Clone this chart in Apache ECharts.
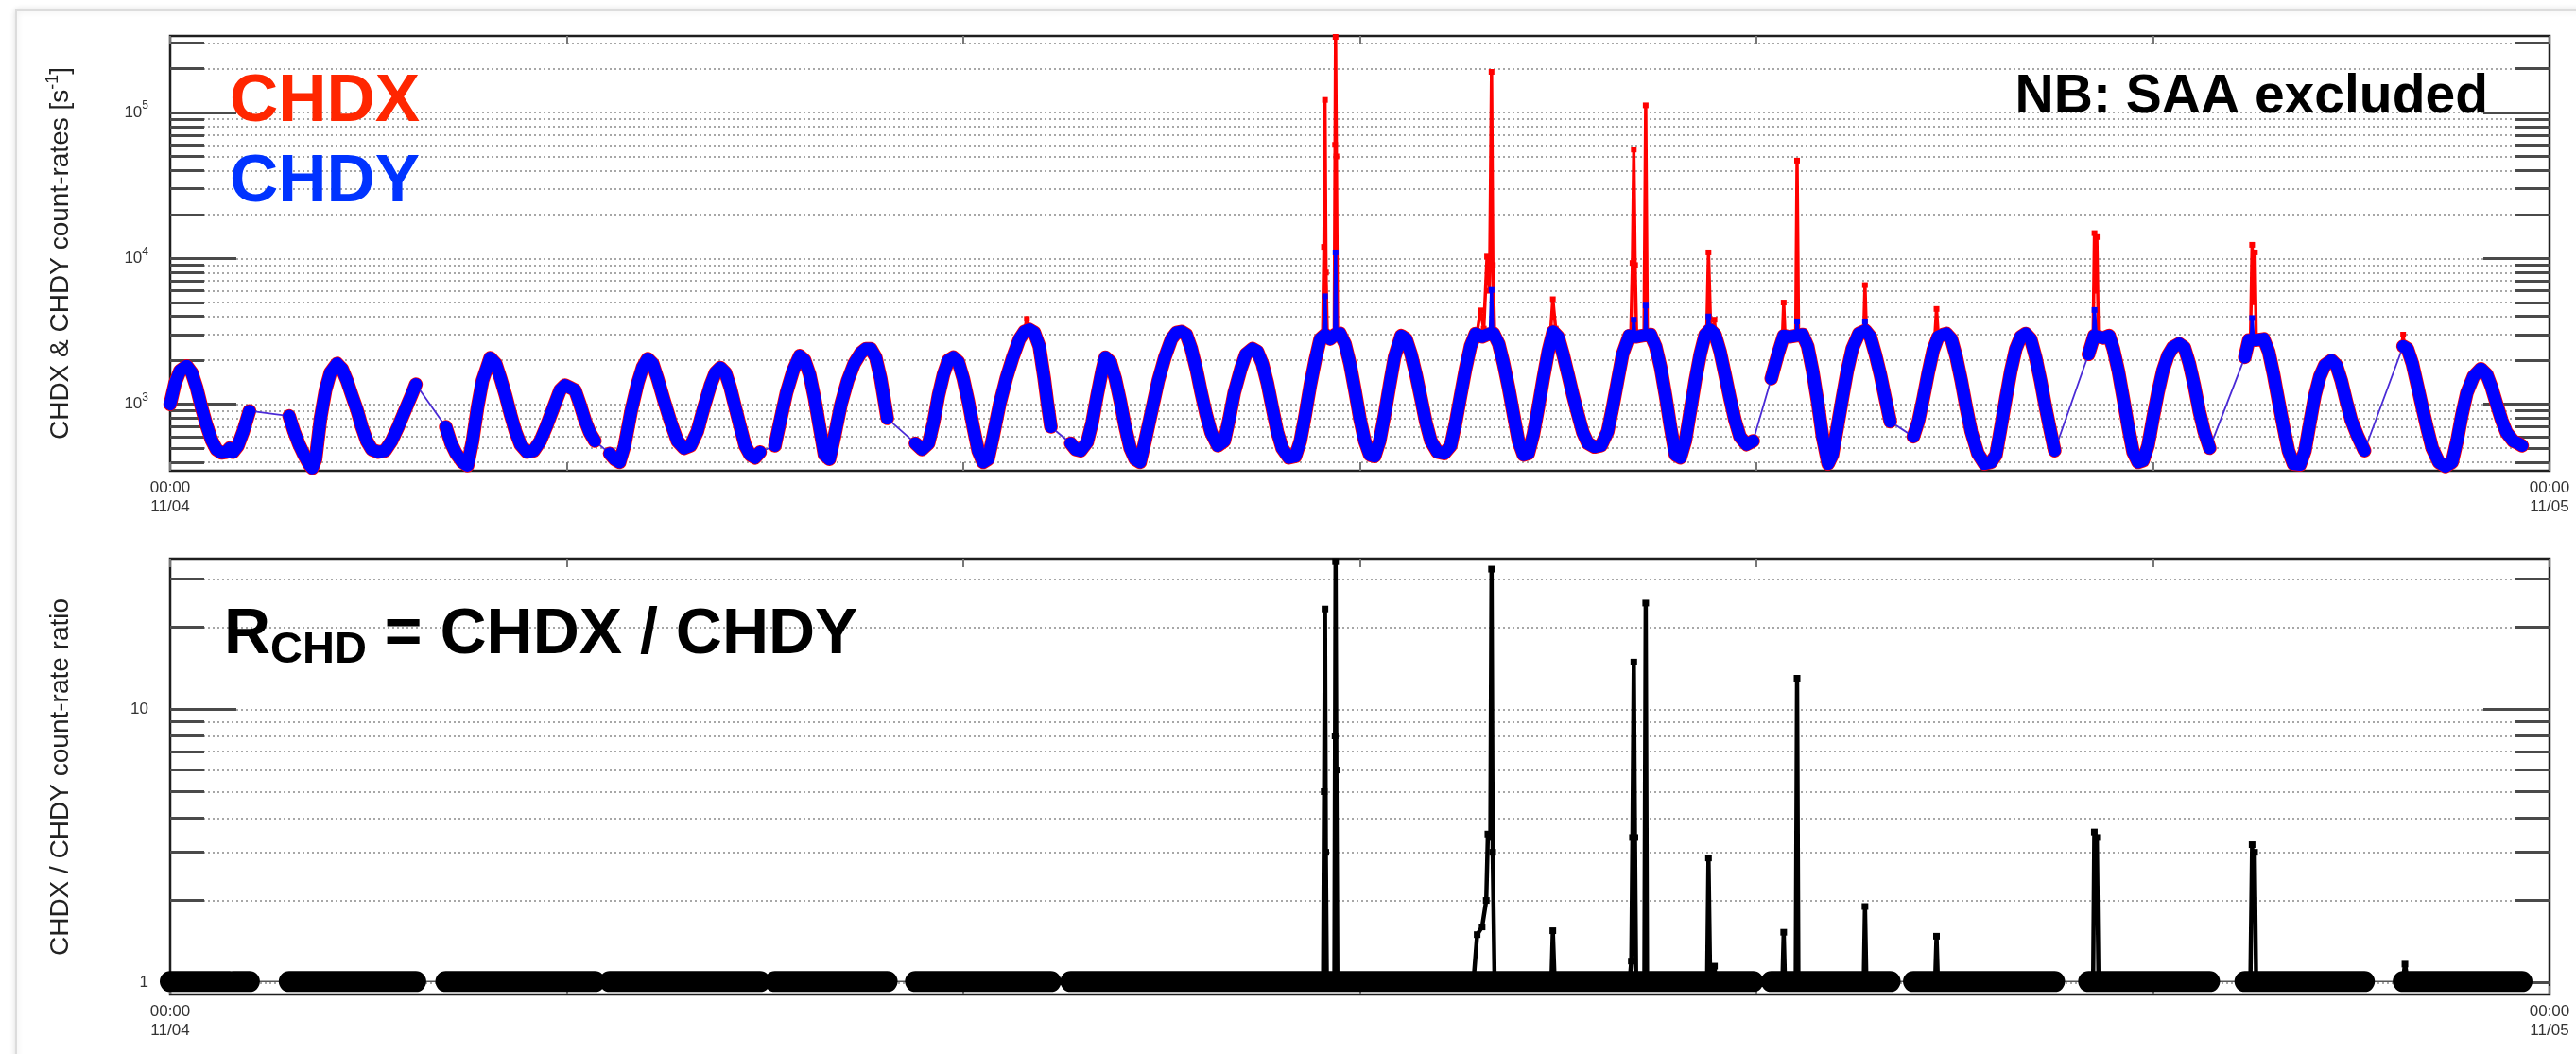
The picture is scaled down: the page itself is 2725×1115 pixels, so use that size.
<!DOCTYPE html>
<html>
<head>
<meta charset="utf-8">
<title>CHDX / CHDY count rates</title>
<script src="https://cdn.jsdelivr.net/npm/echarts/dist/echarts.min.js"></script>
<style>
  html, body { margin: 0; padding: 0; background: #fff; }
  #chart { width: 2725px; height: 1115px; }
</style>
</head>
<body>
<div id="chart"></div>
<script>
// time in minutes after 00:00 11/04, count rate in s^-1
// orbit data between SAA passages (CHDX and CHDY lie on top of each other here)
var chdySegs = [
  [[0, 1000], [3, 1400], [6, 1700], [10, 1830], [13, 1650], [16, 1300], [19, 950], [22, 720], [25, 570], [28, 490], [31, 465], [34, 470], [36, 500]],
  [[38, 470], [41, 520], [44, 640], [48, 900]],
  [[72, 830], [75, 650], [78, 530], [81, 450], [84, 390], [86, 365], [88, 420], [91, 800], [94, 1250], [97, 1650], [101, 1900], [104, 1750], [107, 1450], [110, 1150], [113, 920], [116, 700], [119, 560], [122, 490], [126, 470], [130, 480], [134, 560], [138, 700], [142, 900], [146, 1150], [148.7, 1370]],
  [[166.8, 700], [170, 540], [173, 460], [177, 400], [180, 380], [183, 560], [186, 950], [189, 1450], [193.7, 2080], [197, 1900], [200, 1500], [203, 1150], [206, 850], [209, 650], [212, 530], [216, 470], [220, 480], [224, 560], [228, 720], [232, 950], [236, 1250], [239, 1350], [242, 1300], [245, 1250], [248, 1000], [251, 780], [254, 640], [257, 560]],
  [[266, 460], [269, 420], [272, 400], [275, 520], [279, 900], [283, 1400], [286, 1800], [289, 2050], [292, 1900], [295, 1500], [299, 1050], [303, 750], [307, 560], [311, 500], [315, 520],
   [319, 650], [323, 950], [327, 1350], [330, 1650], [333, 1780], [336, 1650], [339, 1300], [342, 950], [345, 700], [348, 520], [351, 450], [354, 430], [357, 470]],
  [[366, 520], [369, 750], [373, 1200], [377, 1700], [381, 2150], [384, 2000], [387, 1600], [390, 1100], [393, 700], [396, 450], [399, 420],
   [402, 600], [406, 1000], [410, 1450], [414, 1900], [418, 2250], [421, 2400], [424, 2400], [427, 2100], [430, 1500], [432, 1100], [434, 800]],
  [[451, 540], [455, 490], [459, 540], [462, 750], [465, 1150], [468, 1600], [471, 2000], [474, 2100], [477, 1950], [480, 1500], [483, 1050], [486, 700], [489, 480], [492, 400], [495, 420],
   [498, 600], [502, 1000], [506, 1500], [510, 2100], [514, 2800], [517, 3150], [520, 3250], [523, 3100], [526, 2500], [529, 1500], [531, 1000], [533, 700]],
  [[545, 540], [548, 490], [551, 480], [555, 550], [558, 750], [561, 1150], [564, 1700], [566, 2100], [569, 1950], [572, 1500], [575, 1050], [578, 700], [581, 500], [584, 420], [587, 400],
   [590, 560], [594, 900], [598, 1450], [602, 2100], [606, 2800], [609, 3100], [612, 3150], [615, 3000], [618, 2400], [621, 1750], [624, 1200], [627, 850], [630, 640], [634, 520], [638, 560], [641, 800], [644, 1200], [648, 1750], [651, 2200], [655, 2400], [658, 2300], [661, 1900], [664, 1400], [667, 950], [670, 650], [673, 500], [677, 430], [681, 440],
   [684, 560], [687, 850], [690, 1350], [693, 2000], [696, 2800], [699, 3000], [702, 2800], [705, 3000], [708, 3050], [711, 2600], [714, 1900], [717, 1250], [720, 800], [723, 560], [726, 450], [729, 440], [732, 560], [735, 850], [738, 1350], [741, 2100], [745, 2950], [748, 2800], [751, 2200], [754, 1600], [757, 1100], [760, 750], [763, 560], [767, 470], [771, 460],
   [775, 520], [778, 750], [781, 1150], [784, 1750], [787, 2500], [790, 3050], [794, 2900], [797, 3000], [801, 3050], [804, 2600], [807, 1900], [810, 1300], [813, 850], [816, 560], [819, 450], [822, 460], [825, 620], [828, 950], [831, 1500], [834, 2300], [837, 3150], [840, 2900], [843, 2200], [846, 1600], [849, 1150], [852, 850], [855, 640], [858, 540], [862, 510], [866, 520],
   [870, 650], [873, 950], [876, 1450], [879, 2200], [883, 2950], [887, 2900], [891, 2950], [896, 3000], [899, 2500], [902, 1800], [905, 1150], [908, 700], [911, 450], [914, 430], [917, 560], [920, 900], [923, 1450], [926, 2200], [929, 3000], [932, 3250], [935, 3000], [938, 2300], [941, 1600], [944, 1100], [947, 780], [950, 600], [954, 530], [958, 560]],
  [[969, 1500], [973, 2200], [976.5, 2950], [980, 2900], [984, 2950], [988, 3000], [991, 2500], [994, 1700], [997, 1050], [1000, 600], [1003.4, 390], [1006, 450], [1009, 700], [1012, 1100], [1015, 1700], [1018, 2400], [1022, 3050], [1026, 3200], [1029, 2900], [1032, 2200], [1035, 1600], [1038, 1100], [1041, 760]],
  [[1055, 600], [1058, 760], [1061, 1100], [1064, 1650], [1067, 2350], [1070, 2900], [1073, 3000], [1075, 3050], [1078, 2800], [1081, 2100], [1084, 1450], [1087, 950], [1090, 650], [1094, 460], [1098, 390], [1102, 400], [1105, 450],
   [1108, 700], [1111, 1100], [1114, 1700], [1117, 2400], [1120, 2900], [1123, 3050], [1126, 2800], [1129, 2100], [1132, 1450], [1135, 950], [1138, 650], [1140.5, 481]],
  [[1161, 2200], [1164.4, 2950], [1167, 2900], [1170, 2850], [1173.5, 2950], [1176, 2400], [1179, 1700], [1182, 1100], [1185, 700], [1188, 470], [1191, 400], [1194, 410], [1197, 520], [1200, 800], [1203, 1200], [1206, 1700], [1209, 2150], [1212, 2450], [1215.8, 2600], [1219, 2450], [1222, 1900], [1225, 1350], [1228, 900], [1231, 650], [1234.3, 500]],
  [[1255.6, 2100], [1258, 2750], [1262, 2750], [1267, 2800], [1270, 2300], [1273, 1600], [1276, 1050], [1279, 700], [1282, 480], [1285, 390], [1289, 385], [1292, 480], [1295, 750], [1298, 1150], [1301, 1550], [1304, 1850], [1308, 2000], [1311, 1850], [1314, 1450], [1317, 1050], [1320, 780], [1324, 600], [1328, 481]],
  [[1351.4, 2500], [1354, 2400], [1357, 1900], [1360, 1350], [1363, 950], [1366, 680], [1369, 500], [1373, 400], [1377, 375], [1381, 400], [1384, 560], [1387, 850], [1390, 1200], [1394, 1550], [1398.5, 1750], [1402, 1600], [1405, 1300], [1408, 1000], [1411, 780], [1414, 640], [1418, 560], [1421, 540], [1423.4, 520]]
];

// short bursts where CHDX departs from CHDY
var chdxBursts = [
  [[517, 3200], [518.5, 3850], [520, 3300]],
  [[697.5, 3000], [698.3, 12000], [698.9, 122000], [699.5, 8000], [700.3, 3000]],
  [[704.5, 3000], [705, 60000], [705.3, 330000], [705.8, 50000], [706.5, 3100]],
  [[791, 3100], [793, 4400], [795, 3300], [797, 10300], [798.5, 6000], [799.7, 190000], [800.5, 9000], [801.5, 3200]],
  [[835.5, 3200], [836.8, 5250], [838.5, 3300]],
  [[884, 3000], [885, 9300], [885.8, 55700], [886.6, 9000], [887.5, 3000]],
  [[892, 3000], [893, 112000], [894, 3000]],
  [[930, 3300], [931, 11000], [932.3, 3400]],
  [[934, 3200], [934.6, 3800], [935.3, 3000]],
  [[975.8, 2950], [976.5, 4980], [977.3, 2950]],
  [[983.8, 2950], [984.6, 46800], [985.5, 2950]],
  [[1025, 3200], [1025.7, 6560], [1026.5, 3200]],
  [[1068, 2900], [1069, 4500], [1070, 3000]],
  [[1163.8, 2950], [1164.6, 14900], [1165.3, 6000], [1166, 14000], [1167, 2900]],
  [[1259, 2750], [1260, 12400], [1261, 5000], [1261.7, 11000], [1262.5, 2750]],
  [[1350.5, 2450], [1351.4, 3000], [1352.3, 2450]]
];
var chdyBursts = [
  [[698, 3000], [698.9, 5500], [699.7, 3000]],
  [[704.7, 3000], [705.3, 11000], [706, 3100]],
  [[799, 3200], [799.7, 6080], [800.4, 3150]],
  [[885.2, 2950], [885.8, 3800], [886.4, 2950]],
  [[892.5, 2950], [893, 4750], [893.6, 2950]],
  [[930.4, 3300], [931, 4000], [931.7, 3300]],
  [[984, 2950], [984.6, 3700], [985.2, 2950]],
  [[1025.2, 3200], [1025.7, 3700], [1026.2, 3200]],
  [[1164, 2950], [1164.6, 4430], [1165.5, 3000]],
  [[1259.5, 2750], [1260, 3900], [1260.8, 2750]]
];

// CHDX / CHDY ratio
var ratioSegs = [
  [[0, 1.01], [36, 1.01]],
  [[38, 1.01], [48, 1.01]],
  [[72, 1.01], [148.7, 1.01]],
  [[166.8, 1.01], [257, 1.01]],
  [[266, 1.01], [357, 1.01]],
  [[366, 1.01], [434, 1.01]],
  [[451, 1.01], [533, 1.01]],
  [[545, 1.01], [700, 1.01], [958, 1.01]],
  [[969, 1.01], [1041, 1.01]],
  [[1055, 1.01], [1140.5, 1.01]],
  [[1161, 1.01], [1234.3, 1.01]],
  [[1255.6, 1.01], [1328, 1.01]],
  [[1351.4, 1.01], [1423.4, 1.01]]
];
var ratioBursts = [
  [[697.8, 1.05], [698.4, 5], [698.9, 23.3], [699.4, 3], [700, 1.05]],
  [[704.6, 1.05], [705, 8], [705.3, 34.7], [705.8, 6], [706.4, 1.05]],
  [[789, 1.05], [791, 1.5], [794, 1.6], [796.5, 2.0], [797.5, 3.5], [799, 3.4], [799.7, 32.6], [800.4, 3], [801.5, 1.05]],
  [[836, 1.05], [836.8, 1.55], [837.8, 1.05]],
  [[883.5, 1.05], [884.3, 1.2], [885, 3.4], [885.8, 14.9], [886.5, 3.4], [887.2, 1.05]],
  [[892.2, 1.05], [893, 24.5], [893.8, 1.05]],
  [[930.2, 1.05], [931, 2.86], [932, 1.05]],
  [[934.2, 1.03], [934.6, 1.15], [935.2, 1.03]],
  [[975.8, 1.05], [976.5, 1.53], [977.2, 1.05]],
  [[983.8, 1.05], [984.6, 13.0], [985.4, 1.05]],
  [[1025, 1.05], [1025.7, 1.9], [1026.5, 1.05]],
  [[1068.2, 1.03], [1069, 1.48], [1069.8, 1.03]],
  [[1163.8, 1.05], [1164.5, 3.56], [1165.3, 2.2], [1166, 3.4], [1167, 1.05]],
  [[1259, 1.05], [1260, 3.2], [1260.8, 2.0], [1261.5, 3.0], [1262.4, 1.05]],
  [[1351.4, 1.03], [1352.5, 1.17], [1354, 1.03]]
];

// axis ticks
var rateMajor = [1000, 10000, 100000];
var rateExp = ['3', '4', '5'];
var rateMinor = [400, 500, 600, 700, 800, 900, 2000, 3000, 4000, 5000, 6000, 7000, 8000, 9000,
  20000, 30000, 40000, 50000, 60000, 70000, 80000, 90000, 200000, 300000];
var ratioMajor = [1, 10];
var ratioLabels = ['1', '10'];
var ratioMinor = [2, 3, 4, 5, 6, 7, 8, 9, 20, 30];
var xEndLabels = ['00:00\n11/04', '00:00\n11/05'];

(function () {
  var FONT = '"Liberation Sans", Arial, Helvetica, sans-serif';
  var myChart = echarts.init(document.getElementById('chart'), null, { renderer: 'canvas' });

  function joinSegs(segs) {
    var out = [];
    segs.forEach(function (seg, i) {
      if (i > 0) out.push([seg[0][0], '-']);
      seg.forEach(function (p) { out.push(p); });
    });
    return out;
  }
  function flatSegs(segs) {
    return [].concat.apply([], segs);
  }
  function findIdx(list, v) {
    for (var i = 0; i < list.length; i++) {
      if (Math.abs(Math.log(v / list[i])) < 1e-6) return i;
    }
    return -1;
  }

  var dotted = { type: [2, 3], color: '#8a8a8a', width: 1.5 };

  function xAxes(grid, labels) {
    var base = {
      gridIndex: grid, type: 'value', min: 0, max: 1440, interval: 240,
      axisLine: { show: false },
      axisTick: { show: true, inside: true, length: 9, lineStyle: { color: '#777', width: 2 } },
      splitLine: { show: false }
    };
    var bottom = Object.assign({}, base, {
      position: 'bottom',
      axisLabel: {
        show: labels, margin: 8, fontSize: 17, lineHeight: 20, color: '#333', fontFamily: FONT,
        showMinLabel: true, showMaxLabel: true,
        formatter: function (v) {
          if (v === 0) return xEndLabels[0];
          if (v === 1440) return xEndLabels[1];
          return '';
        }
      }
    });
    var top = Object.assign({}, base, { position: 'top', axisLabel: { show: false } });
    return [bottom, top];
  }

  function yAxes(grid, min, max, major, minor, labelFn) {
    function ax(pos, vals, len, withLabel, withGrid) {
      return {
        gridIndex: grid, type: 'log', logBase: 10, min: min, max: max, position: pos,
        axisLine: { show: false },
        axisTick: { show: true, inside: true, length: len, customValues: vals, lineStyle: { color: '#4a4a4a', width: 3 } },
        axisLabel: withLabel ? {
          customValues: vals, margin: 23, color: '#333', fontFamily: FONT,
          formatter: labelFn,
          rich: {
            b: { fontSize: 17, lineHeight: 26, color: '#333', fontFamily: FONT },
            s: { fontSize: 12, lineHeight: 12, verticalAlign: 'top', color: '#333', fontFamily: FONT }
          }
        } : { show: false },
        splitLine: { show: withGrid, lineStyle: dotted }
      };
    }
    return [
      ax('left', major, 70, true, true),
      ax('left', minor, 36, false, true),
      ax('right', major, 70, false, false),
      ax('right', minor, 36, false, false)
    ];
  }

  function lineSeries(data, xi, yi, color, width, z, extra) {
    return Object.assign({
      type: 'line', data: data, xAxisIndex: xi, yAxisIndex: yi,
      showSymbol: false, symbol: 'none', connectNulls: false, silent: true,
      lineStyle: { color: color, width: width, cap: 'round', join: 'round' },
      itemStyle: { color: color }, z: z, animation: false
    }, extra || {});
  }

  var spikeSym = { showSymbol: true, symbol: 'rect', symbolSize: 6, showAllSymbol: true };

  var option = {
    animation: false,
    backgroundColor: '#ffffff',
    textStyle: { fontFamily: FONT },
    grid: [
      { left: 180, top: 38, width: 2517, height: 460, show: true, borderColor: '#1e1e1e', borderWidth: 2.5, backgroundColor: 'rgba(0,0,0,0)', outerBoundsMode: 'none', containLabel: false },
      { left: 180, top: 591, width: 2517, height: 461, show: true, borderColor: '#1e1e1e', borderWidth: 2.5, backgroundColor: 'rgba(0,0,0,0)', outerBoundsMode: 'none', containLabel: false }
    ],
    xAxis: xAxes(0, true).concat(xAxes(1, true)),
    yAxis: yAxes(0, 350, 335000, rateMajor, rateMinor, function (v) {
      var i = findIdx(rateMajor, v);
      return i < 0 ? '' : '{b|10}{s|' + rateExp[i] + '}';
    }).concat(yAxes(1, 0.906, 35.6, ratioMajor, ratioMinor, function (v) {
      var i = findIdx(ratioMajor, v);
      return i < 0 ? '' : '{b|' + ratioLabels[i] + '}';
    })),
    series: [
      lineSeries(joinSegs(chdySegs), 0, 0, '#ff0000', 14.5, 2),
      lineSeries(joinSegs(chdxBursts), 0, 0, '#ff0000', 3.5, 3, spikeSym),
      lineSeries(flatSegs(chdySegs), 0, 0, '#4a2ad6', 1.8, 4),
      lineSeries(joinSegs(chdySegs), 0, 0, '#0000ff', 13, 5),
      lineSeries(joinSegs(chdyBursts), 0, 0, '#0000ff', 3.5, 6, spikeSym),

      lineSeries(flatSegs(ratioSegs), 2, 4, '#555555', 1.5, 2),
      lineSeries(joinSegs(ratioSegs), 2, 4, '#000000', 22, 3),
      lineSeries(joinSegs(ratioBursts), 2, 4, '#000000', 4.5, 4, { showSymbol: true, symbol: 'rect', symbolSize: 7, showAllSymbol: true })
    ],
    graphic: [
      { type: 'rect', silent: true, z: -10, shape: { x: 17, y: 11, width: 2780, height: 1180 },
        style: { fill: '#ffffff', stroke: '#dcdcdc', lineWidth: 2, shadowBlur: 6, shadowColor: 'rgba(0,0,0,0.12)' } },
      { type: 'text', silent: true, x: 64, y: 268, rotation: Math.PI / 2,
        style: { text: '{t|CHDX & CHDY count-rates [s}{u|-1}{t|]}', align: 'center', verticalAlign: 'middle',
          rich: { t: { fontSize: 28, lineHeight: 34, fill: '#222', fontFamily: FONT },
                  u: { fontSize: 18, lineHeight: 18, verticalAlign: 'top', fill: '#222', fontFamily: FONT } } } },
      { type: 'text', silent: true, x: 64, y: 822, rotation: Math.PI / 2,
        style: { text: 'CHDX / CHDY count-rate ratio', align: 'center', verticalAlign: 'middle',
          font: '28px ' + FONT, fill: '#222' } },
      { type: 'text', silent: true, x: 243, y: 108, z: 100,
        style: { text: 'CHDX', align: 'left', verticalAlign: 'middle', font: 'bold 71px ' + FONT, fill: '#ff2600' } },
      { type: 'text', silent: true, x: 243, y: 193, z: 100,
        style: { text: 'CHDY', align: 'left', verticalAlign: 'middle', font: 'bold 71px ' + FONT, fill: '#0033ff' } },
      { type: 'text', silent: true, x: 2632, y: 103, z: 100,
        style: { text: 'NB: SAA excluded', align: 'right', verticalAlign: 'middle', font: 'bold 57px ' + FONT, fill: '#000' } },
      { type: 'text', silent: true, x: 237, y: 672, z: 100,
        style: { text: '{r|R}{s|CHD}{r| = CHDX / CHDY}', align: 'left', verticalAlign: 'middle',
          rich: { r: { fontSize: 68, fontWeight: 'bold', lineHeight: 80, fill: '#000', fontFamily: FONT },
                  s: { fontSize: 47, fontWeight: 'bold', lineHeight: 56, verticalAlign: 'bottom', fill: '#000', fontFamily: FONT } } } }
    ]
  };

  myChart.setOption(option);
})();
</script>
</body>
</html>
